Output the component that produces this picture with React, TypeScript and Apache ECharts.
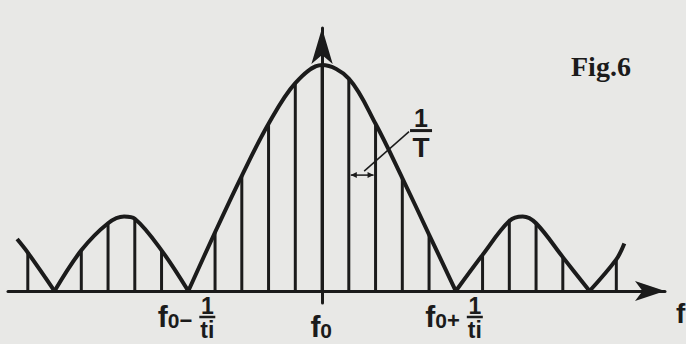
import React, { useEffect, useRef } from 'react';
import * as echarts from 'echarts';

// Spectral lines, counted in steps of 1/T away from f0
const lineIndex = [-11, -10, -9, -8, -7, -6, -5, -4, -3, -2, -1, 0, 1, 2, 3, 4, 5, 6, 7, 8, 9, 10, 11];
// Relative amplitude of each line (centre line = 1)
const lineAmplitude = [
  0.17, 0, 0.18, 0.3, 0.32, 0.18, 0, 0.26, 0.51, 0.74, 0.92, 1.0,
  0.94, 0.74, 0.5, 0.25, 0, 0.16, 0.31, 0.3, 0.15, 0, 0.14,
];

// Spectrum envelope, one lobe per array so each null keeps a sharp corner
const envelopeOuterLeft = [[-11.4, 0.23], [-11, 0.17], [-10, 0]];
const envelopeLeftLobe = [[-10, 0], [-9, 0.18], [-8, 0.3], [-7.4, 0.33], [-7, 0.32], [-6, 0.18], [-5, 0]];
const envelopeMainLobe = [
  [-5, 0], [-4, 0.26], [-3, 0.51], [-2, 0.74], [-1, 0.92], [0, 1.0],
  [1, 0.94], [2, 0.74], [3, 0.5], [4, 0.25], [5, 0],
];
const envelopeRightLobe = [[5, 0], [6, 0.16], [7, 0.31], [7.5, 0.33], [8, 0.3], [9, 0.15], [10, 0]];
const envelopeOuterRight = [[10, 0], [11, 0.14], [11.3, 0.21]];

// Frequency marks written under the axis
const tickMarks = [
  { at: -5, sign: '\u2212', num: '1', den: 'ti' },
  { at: 0, sign: '', num: '', den: '' },
  { at: 5, sign: '+', num: '1', den: 'ti' },
];

// Line spacing callout (1/T) between two neighbouring lines
const spacingFrom = 1;
const spacingTo = 2;
const spacingLevel = 0.513;
const spacingTextAt = [3.7, 0.71];

const INK = '#1b1b1b';
const PAPER = '#e8e8e6';
const SANS = '"Liberation Sans", Arial, sans-serif';
const SERIF = '"Liberation Serif", "Times New Roman", serif';

export default function App() {
  const ref = useRef<HTMLDivElement>(null);

  useEffect(() => {
    if (!ref.current) return;
    const chart = echarts.init(ref.current, undefined, { renderer: 'svg' });

    const lobes = [envelopeOuterLeft, envelopeLeftLobe, envelopeMainLobe, envelopeRightLobe, envelopeOuterRight];

    chart.setOption({
      animation: false,
      backgroundColor: PAPER,
      grid: { left: 8, right: 21, top: 28, bottom: 41 },
      xAxis: {
        type: 'value',
        min: -11.74,
        max: 12.82,
        axisLine: {
          show: true,
          onZero: true,
          symbol: ['none', 'arrow'],
          symbolSize: [15, 30],
          lineStyle: { color: INK, width: 3 },
        },
        axisTick: { show: false },
        axisLabel: { show: false },
        splitLine: { show: false },
      },
      yAxis: {
        type: 'value',
        min: -0.053,
        max: 1.164,
        axisLine: {
          show: true,
          onZero: true,
          symbol: ['none', 'arrow'],
          symbolSize: [16, 36],
          lineStyle: { color: INK, width: 3 },
        },
        axisTick: { show: false },
        axisLabel: { show: false },
        splitLine: { show: false },
      },
      series: [
        {
          type: 'bar',
          data: lineIndex.map((k, i) => [k, lineAmplitude[i]]),
          barWidth: 3,
          itemStyle: { color: INK },
          silent: true,
        },
        ...lobes.map((d) => ({
          type: 'line',
          data: d,
          smooth: 0.35,
          symbol: 'none',
          silent: true,
          lineStyle: { color: INK, width: 4 },
        })),
      ],
    });

    const px = (k: number, a: number) => chart.convertToPixel({ gridIndex: 0 }, [k, a]) as number[];
    const elements: any[] = [];

    // labels under the frequency axis
    tickMarks.forEach((t) => {
      const [x] = px(t.at, 0);
      const hasFrac = t.num !== '';
      const prefixRight = hasFrac ? x + 4 : x + 10;
      const baseY = hasFrac ? 331 : 341;
      elements.push({
        type: 'text',
        x: prefixRight,
        y: baseY,
        style: {
          text: `{f|f}{s|0}${t.sign ? `{g|${t.sign}}` : ''}`,
          align: 'right',
          verticalAlign: 'bottom',
          fill: INK,
          rich: {
            f: { fontSize: 30, fontWeight: 'bold', fontFamily: SANS, fill: INK, verticalAlign: 'bottom' },
            s: { fontSize: 21, fontWeight: 'bold', fontFamily: SANS, fill: INK, verticalAlign: 'bottom' },
            g: { fontSize: 22, fontWeight: 'bold', fontFamily: SANS, fill: INK, verticalAlign: 'bottom' },
          },
        },
      });
      if (hasFrac) {
        const cx = x + 19;
        elements.push(
          {
            type: 'text',
            x: cx,
            y: 306,
            style: { text: t.num, align: 'center', verticalAlign: 'middle', fontSize: 23, fontWeight: 'bold', fontFamily: SANS, fill: INK },
          },
          {
            type: 'line',
            shape: { x1: cx - 8, y1: 317, x2: cx + 8, y2: 317 },
            style: { stroke: INK, lineWidth: 2.5 },
          },
          {
            type: 'text',
            x: cx,
            y: 330,
            style: { text: t.den, align: 'center', verticalAlign: 'middle', fontSize: 23, fontWeight: 'bold', fontFamily: SANS, fill: INK },
          },
        );
      }
    });

    // axis name at the end of the frequency axis
    elements.push({
      type: 'text',
      x: 676,
      y: 313,
      style: { text: 'f', align: 'left', verticalAlign: 'middle', fontSize: 28, fontWeight: 'bold', fontFamily: SANS, fill: INK },
    });

    // 1/T spacing callout
    const [ax1, ay] = px(spacingFrom, spacingLevel);
    const [ax2] = px(spacingTo, spacingLevel);
    const [tx, ty] = px(spacingTextAt[0], spacingTextAt[1]);
    const a1 = ax1 + 2;
    const a2 = ax2 - 2;
    elements.push(
      {
        type: 'line',
        shape: { x1: a1, y1: ay, x2: a2, y2: ay },
        style: { stroke: INK, lineWidth: 1.5 },
      },
      {
        type: 'polygon',
        shape: { points: [[a1, ay], [a1 + 6, ay - 3], [a1 + 6, ay + 3]] },
        style: { fill: INK },
      },
      {
        type: 'polygon',
        shape: { points: [[a2, ay], [a2 - 6, ay - 3], [a2 - 6, ay + 3]] },
        style: { fill: INK },
      },
      {
        type: 'line',
        shape: { x1: tx - 12, y1: ty + 1, x2: (ax1 + ax2) / 2 + 2, y2: ay - 4 },
        style: { stroke: INK, lineWidth: 1.5 },
      },
      {
        type: 'text',
        x: tx,
        y: ty - 13,
        style: { text: '1', align: 'center', verticalAlign: 'middle', fontSize: 25, fontWeight: 'bold', fontFamily: SANS, fill: INK },
      },
      {
        type: 'line',
        shape: { x1: tx - 11, y1: ty, x2: tx + 11, y2: ty },
        style: { stroke: INK, lineWidth: 3 },
      },
      {
        type: 'text',
        x: tx,
        y: ty + 17,
        style: { text: 'T', align: 'center', verticalAlign: 'middle', fontSize: 28, fontWeight: 'bold', fontFamily: SANS, fill: INK },
      },
    );

    // figure caption
    elements.push({
      type: 'text',
      x: 571,
      y: 66,
      style: { text: 'Fig.6', align: 'left', verticalAlign: 'middle', fontSize: 28, fontWeight: 'bold', fontFamily: SERIF, fill: INK },
    });

    chart.setOption({ graphic: { elements } });

    return () => chart.dispose();
  }, []);

  return (
    <div
      ref={ref}
      style={{ position: 'fixed', left: 0, top: 0, width: 686, height: 344, background: PAPER }}
    />
  );
}
